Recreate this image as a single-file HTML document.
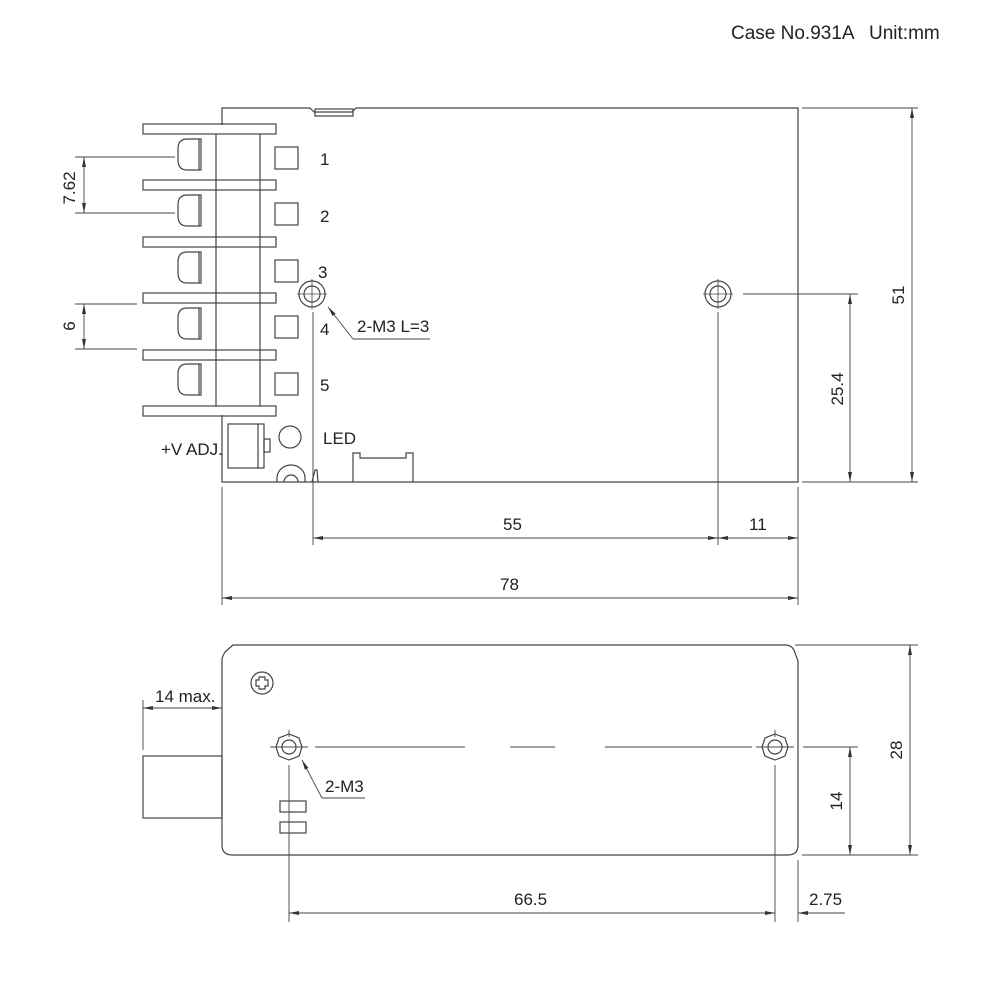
<!DOCTYPE html>
<html><head><meta charset="utf-8"><style>
html,body{margin:0;padding:0;background:#fff;width:1000px;height:1000px;overflow:hidden}
svg{display:block}
text{font-family:"Liberation Sans",sans-serif;fill:#222}
</style></head><body>
<svg width="1000" height="1000" viewBox="0 0 1000 1000" xmlns="http://www.w3.org/2000/svg">
<defs>
<marker id="a" viewBox="0 0 10 4" refX="10" refY="2" markerWidth="10" markerHeight="4" orient="auto-start-reverse" markerUnits="userSpaceOnUse"><path d="M0,0L10,2L0,4z" fill="#333"/></marker>
</defs>
<text x="731" y="39" font-size="19">Case No.931A</text>
<text x="869" y="39" font-size="19">Unit:mm</text>
<g fill="none" stroke="#444" stroke-width="1.2">
<path d="M222,125V108H310l4,4H352l4,-4H798V482H222V415"/>
<rect x="315" y="109" width="38" height="7"/>
<rect x="143" y="124" width="133" height="10"/>
<rect x="143" y="180" width="133" height="10"/>
<rect x="143" y="237" width="133" height="10"/>
<rect x="143" y="293" width="133" height="10"/>
<rect x="143" y="350" width="133" height="10"/>
<rect x="143" y="406" width="133" height="10"/>
<line x1="216" y1="134" x2="216" y2="406"/>
<line x1="260" y1="134" x2="260" y2="406"/>
<g id="dome"><path d="M201,139H187q-9,0 -9,10V160q0,10 9,10H201z"/><line x1="199" y1="139" x2="199" y2="170"/></g>
<use href="#dome" y="56"/><use href="#dome" y="113"/><use href="#dome" y="169"/><use href="#dome" y="225"/>
<rect x="275" y="147" width="23" height="22"/>
<rect x="275" y="203" width="23" height="22"/>
<rect x="275" y="260" width="23" height="22"/>
<rect x="275" y="316" width="23" height="22"/>
<rect x="275" y="373" width="23" height="22"/>
<circle cx="312" cy="294" r="13"/><circle cx="312" cy="294" r="8"/>
<circle cx="718" cy="294" r="13"/><circle cx="718" cy="294" r="8"/>
<g stroke-width="0.8">
<line x1="297" y1="294" x2="327" y2="294"/><line x1="312" y1="279" x2="312" y2="309"/>
<line x1="703" y1="294" x2="733" y2="294"/><line x1="718" y1="279" x2="718" y2="309"/>
</g>
<rect x="228" y="424" width="36" height="44"/>
<line x1="258" y1="424" x2="258" y2="468"/>
<rect x="264" y="439" width="6" height="13"/>
<circle cx="290" cy="437" r="11"/>
<path d="M277,482V478a14,13 0 0 1 28,0V482"/>
<path d="M284,482a7,7 0 0 1 14,0"/>
<path d="M353,482V453H360v5H406v-5H413V482"/>
<path d="M312,482l3,-12h2l1,12"/>
<line x1="328" y1="307" x2="353" y2="339" stroke-width="0.9" marker-start="url(#a)"/>
<line x1="353" y1="339" x2="430" y2="339" stroke-width="0.9"/>
</g>
<g stroke="#444" stroke-width="0.9" fill="none">
<line x1="75" y1="157" x2="175" y2="157"/><line x1="75" y1="213" x2="175" y2="213"/>
<line x1="84" y1="157" x2="84" y2="213" marker-start="url(#a)" marker-end="url(#a)"/>
<line x1="75" y1="304" x2="137" y2="304"/><line x1="75" y1="349" x2="137" y2="349"/>
<line x1="84" y1="304" x2="84" y2="349" marker-start="url(#a)" marker-end="url(#a)"/>
<line x1="313" y1="312" x2="313" y2="545"/>
<line x1="718" y1="312" x2="718" y2="545"/>
<line x1="798" y1="487" x2="798" y2="605"/>
<line x1="222" y1="487" x2="222" y2="605"/>
<line x1="313" y1="538" x2="718" y2="538" marker-start="url(#a)" marker-end="url(#a)"/>
<line x1="718" y1="538" x2="798" y2="538" marker-start="url(#a)" marker-end="url(#a)"/>
<line x1="222" y1="598" x2="798" y2="598" marker-start="url(#a)" marker-end="url(#a)"/>
<line x1="802" y1="108" x2="918" y2="108"/><line x1="802" y1="482" x2="918" y2="482"/>
<line x1="912" y1="108" x2="912" y2="482" marker-start="url(#a)" marker-end="url(#a)"/>
<line x1="743" y1="294" x2="858" y2="294"/>
<line x1="850" y1="294" x2="850" y2="482" marker-start="url(#a)" marker-end="url(#a)"/>
</g>
<g font-size="17">
<text x="320" y="165">1</text><text x="320" y="222">2</text><text x="318" y="278">3</text>
<text x="320" y="335">4</text><text x="320" y="391">5</text>
<text x="357" y="332">2-M3 L=3</text>
<text x="323" y="444">LED</text>
<text x="161" y="455">+V ADJ.</text>
<text x="503" y="530">55</text><text x="749" y="530">11</text><text x="500" y="590">78</text>
<text transform="translate(75,188) rotate(-90)" text-anchor="middle">7.62</text>
<text transform="translate(75,326) rotate(-90)" text-anchor="middle">6</text>
<text transform="translate(904,295) rotate(-90)" text-anchor="middle">51</text>
<text transform="translate(843,389) rotate(-90)" text-anchor="middle">25.4</text>
</g>
<g fill="none" stroke="#444" stroke-width="1.2">
<path d="M233,645H785q8,0 10,8l3,8V845q0,10 -10,10H232q-10,0 -10,-10V660q0,-3 3,-8z"/>
<rect x="143" y="756" width="79" height="62"/>
<circle cx="262" cy="683" r="11"/>
<path d="M259,677h6v3h3v6h-3v3h-6v-3h-3v-6h3z"/>
<polygon points="289,734 299,738 302,747 299,756 289,760 279,756 276,747 279,738"/>
<circle cx="289" cy="747" r="7"/>
<polygon points="775,734 785,738 788,747 785,756 775,760 765,756 762,747 765,738"/>
<circle cx="775" cy="747" r="7"/>
<rect x="280" y="801" width="26" height="11"/>
<rect x="280" y="822" width="26" height="11"/>
</g>
<g stroke="#444" stroke-width="0.9" fill="none">
<line x1="270" y1="747" x2="308" y2="747"/><line x1="289" y1="730" x2="289" y2="737"/>
<line x1="756" y1="747" x2="794" y2="747"/><line x1="775" y1="730" x2="775" y2="737"/>
<line x1="315" y1="747" x2="465" y2="747"/>
<line x1="510" y1="747" x2="555" y2="747"/>
<line x1="605" y1="747" x2="752" y2="747"/>
<line x1="302" y1="760" x2="322" y2="798" marker-start="url(#a)"/>
<line x1="322" y1="798" x2="365" y2="798"/>
<line x1="289" y1="765" x2="289" y2="922"/>
<line x1="775" y1="765" x2="775" y2="922"/>
<line x1="798" y1="860" x2="798" y2="922"/>
<line x1="289" y1="913" x2="775" y2="913" marker-start="url(#a)" marker-end="url(#a)"/>
<line x1="845" y1="913" x2="798" y2="913" marker-end="url(#a)"/>
<line x1="143" y1="700" x2="143" y2="750"/>
<line x1="143" y1="708" x2="222" y2="708" marker-start="url(#a)" marker-end="url(#a)"/>
<line x1="795" y1="645" x2="918" y2="645"/>
<line x1="802" y1="855" x2="918" y2="855"/>
<line x1="910" y1="645" x2="910" y2="855" marker-start="url(#a)" marker-end="url(#a)"/>
<line x1="803" y1="747" x2="858" y2="747"/>
<line x1="850" y1="747" x2="850" y2="855" marker-start="url(#a)" marker-end="url(#a)"/>
</g>
<g font-size="17">
<text x="155" y="702">14 max.</text>
<text x="325" y="792">2-M3</text>
<text x="514" y="905">66.5</text>
<text x="809" y="905">2.75</text>
<text transform="translate(902,750) rotate(-90)" text-anchor="middle">28</text>
<text transform="translate(842,801) rotate(-90)" text-anchor="middle">14</text>
</g>
</svg>
</body></html>
